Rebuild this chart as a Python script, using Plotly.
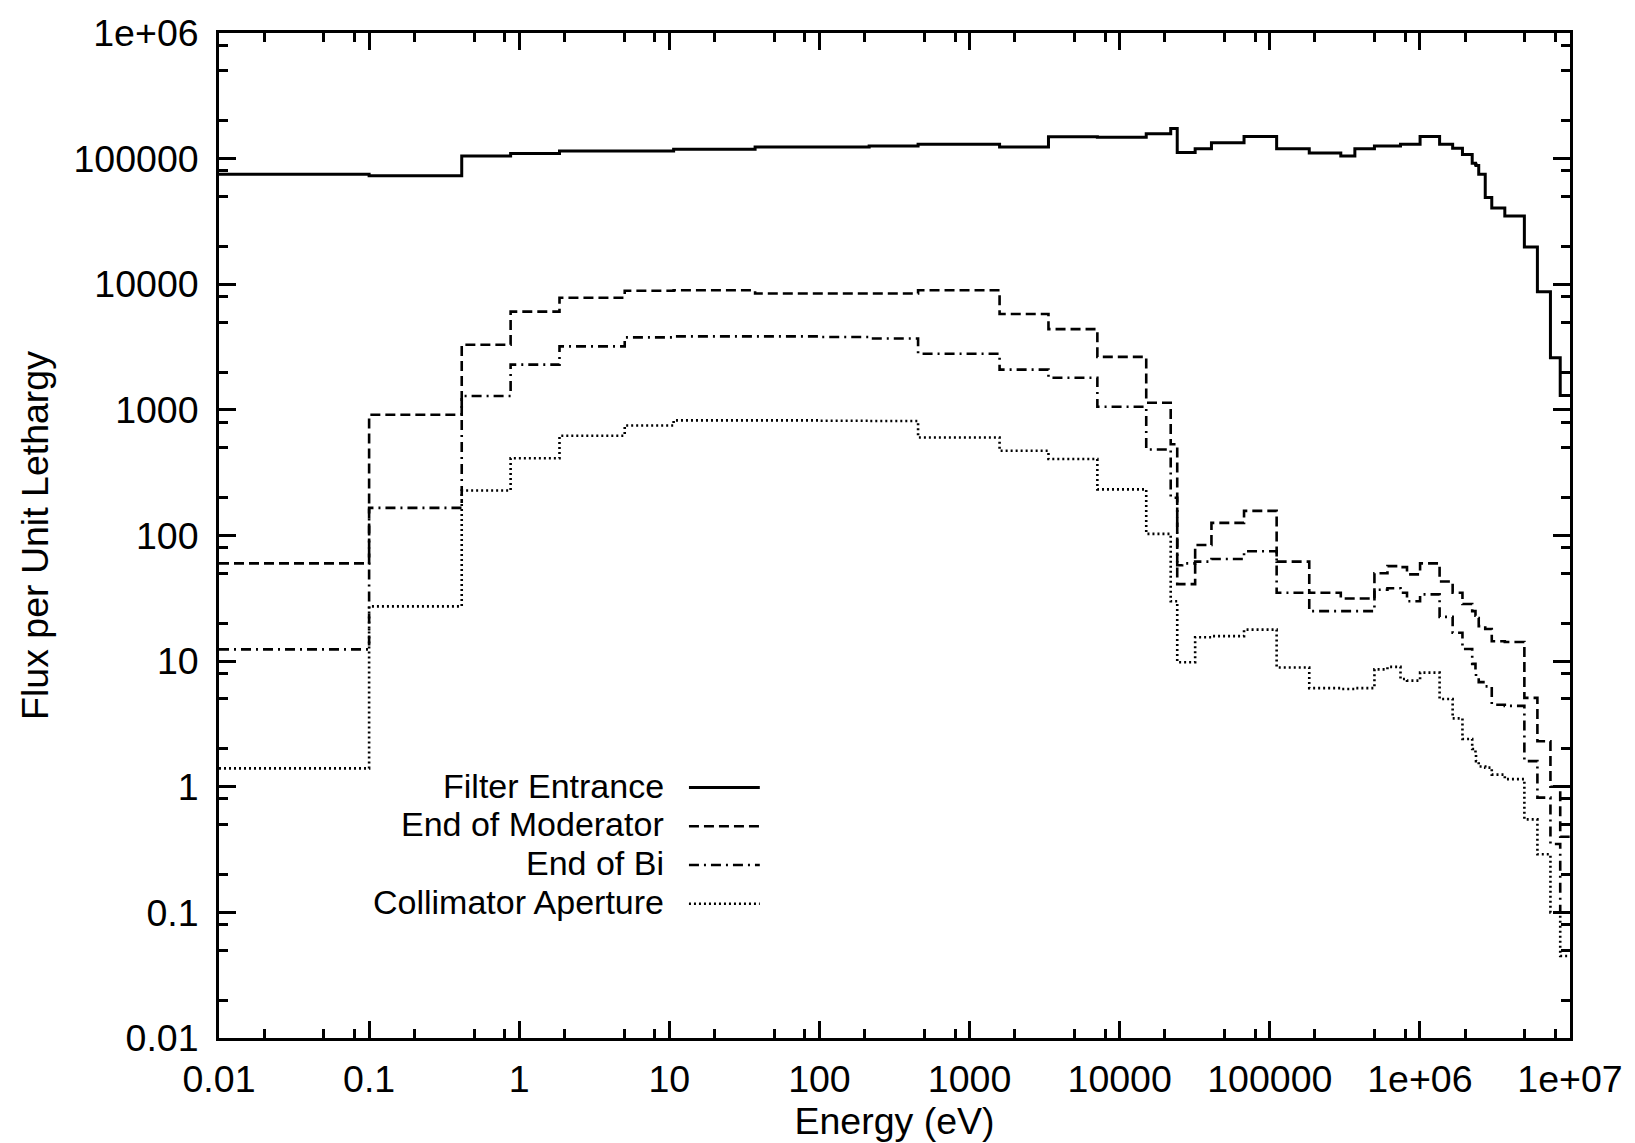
import plotly.graph_objects as go

# ---------------- data ----------------
# group boundaries (eV), 47-group BUGLE-type structure clipped to 0.01 eV .. 10 MeV
edges = [0.01, 0.1, 0.414, 0.8764, 1.855, 5.044, 10.68, 37.27, 101.3, 214.4, 454.0,
         1585, 3355, 7102, 15030, 21880, 24180, 26060, 31830, 40870, 67380, 111100,
         183200, 297200, 368800, 497900, 608100, 742700, 820800, 1003000, 1353000,
         1653000, 1921000, 2231000, 2346000, 2365000, 2466000, 2725000, 3012000,
         3679000, 4966000, 6065000, 7408000, 8607000, 1e7]

filter_entrance = [75000, 73000, 105000, 110000, 115000, 115000, 118600, 124000, 124000,
                   126000, 130000, 124000, 149000, 148000, 158000, 174000, 112000, 112000,
                   120000, 134000, 150000, 120000, 111000, 105000, 120000, 126000, 126000,
                   130000, 130000, 150000, 130000, 121000, 108000, 92000, 90000, 88000,
                   75000, 49000, 40500, 35000, 19800, 8700, 2600, 1300]

end_of_moderator = [60, 915, 3300, 6050, 7800, 8880, 8950, 8450, 8450, 8450, 8970, 5800,
                    4390, 2640, 1140, 533, 41, 41, 84, 126, 157, 62, 35, 31.5, 31.5, 50,
                    57, 56, 49, 60, 43, 35, 28.5, 25, 23, 22, 19, 18, 14.4, 14.2, 5.1,
                    2.3, 1.0, 0.4]

end_of_bi = [12.4, 166, 1290, 2290, 3200, 3780, 3850, 3850, 3800, 3700, 2800, 2090, 1800,
             1060, 484, 200, 58, 60, 62, 65, 75, 35, 25, 25, 25, 37, 38, 35, 30, 34,
             22.5, 16.8, 12.5, 9.5, 8.5, 7.5, 6.8, 6.3, 4.5, 4.4, 1.6, 0.82, 0.35, 0.1]

collimator_aperture = [1.4, 27.3, 228, 412, 623, 750, 825, 825, 820, 815, 603, 473, 406,
                       233, 103, 30, 9.8, 9.8, 15.5, 15.8, 17.8, 8.9, 6.1, 6.0, 6.1, 8.6,
                       9.0, 7.2, 7.0, 8.1, 5.0, 3.5, 2.4, 2.0, 1.8, 1.6, 1.45, 1.42, 1.25,
                       1.15, 0.55, 0.29, 0.1, 0.045]

series_names = ["Filter Entrance", "End of Moderator", "End of Bi", "Collimator Aperture"]
series_values = [filter_entrance, end_of_moderator, end_of_bi, collimator_aperture]

x_tick_vals = [0.01, 0.1, 1, 10, 100, 1000, 10000, 100000, 1e6, 1e7]
x_tick_text = ["0.01", "0.1", "1", "10", "100", "1000", "10000", "100000", "1e+06", "1e+07"]
y_tick_vals = [0.01, 0.1, 1, 10, 100, 1000, 10000, 100000, 1e6]
y_tick_text = ["0.01", "0.1", "1", "10", "100", "1000", "10000", "100000", "1e+06"]

# ---------------- styling ----------------
FONT = "Liberation Sans, Arial, Helvetica, sans-serif"
FS = 37.5
LEG_FS = 34
dashes = ["solid", "10px,5px", "10px,5px,2px,5px", "2px,3px"]
widths = [3, 2.6, 2.6, 2.6]

W, H = 1635, 1143
ML, MR, MT, MB = 219, 62, 28, 104
PW = W - ML - MR
PH = H - MT - MB


def px_to_paper_x(px):
    return (px - ML) / PW


def px_to_paper_y(py):
    return (H - MB - py) / PH


fig = go.Figure()
for name, vals, dash, lw in zip(series_names, series_values, dashes, widths):
    fig.add_trace(go.Scatter(
        x=edges,
        y=list(vals) + [vals[-1]],
        mode="lines",
        name=name,
        showlegend=False,
        line=dict(color="black", width=lw, dash=dash, shape="hv"),
    ))

minor_x = [m * 10 ** e for e in range(-2, 7) for m in (2, 5, 8)]
minor_y = [m * 10 ** e for e in range(-2, 6) for m in (2, 5, 8)]

axis_common = dict(
    type="log",
    showgrid=False,
    zeroline=False,
    showline=True,
    linecolor="black",
    linewidth=2.8,
    mirror="ticks",
    ticks="inside",
    ticklen=17,
    tickwidth=2.5,
    tickcolor="black",
    tickfont=dict(family=FONT, size=FS, color="black"),
)

fig.update_layout(
    width=W,
    height=H,
    margin=dict(l=ML, r=MR, t=MT, b=MB, pad=0),
    autosize=False,
    paper_bgcolor="white",
    plot_bgcolor="white",
    showlegend=False,
    font=dict(family=FONT, size=FS, color="black"),
    xaxis=dict(
        **axis_common,
        range=[-2, 7],
        tickmode="array",
        tickvals=x_tick_vals,
        ticktext=x_tick_text,
        ticklabelstandoff=6,
        minor=dict(tickmode="array", tickvals=minor_x, ticks="inside", ticklen=9,
                   tickwidth=2.5, tickcolor="black", showgrid=False),
        title=dict(text="Energy (eV)", font=dict(family=FONT, size=FS, color="black"),
                   standoff=5),
    ),
    yaxis=dict(
        **axis_common,
        range=[-2, 6],
        tickmode="array",
        tickvals=y_tick_vals,
        ticktext=y_tick_text,
        ticklabelstandoff=10,
        minor=dict(tickmode="array", tickvals=minor_y, ticks="inside", ticklen=9,
                   tickwidth=2.5, tickcolor="black", showgrid=False),
        title=dict(text="Flux per Unit Lethargy", font=dict(family=FONT, size=FS, color="black"),
                   standoff=14),
    ),
)

# legend drawn like the original: right-aligned labels with line samples on their right
legend_rows_py = [785, 824, 863, 902]
text_right_px = 667
sample_x0_px, sample_x1_px = 690, 761
for name, dash, lw, py in zip(series_names, dashes, widths, legend_rows_py):
    fig.add_annotation(
        x=px_to_paper_x(text_right_px), y=px_to_paper_y(py),
        xref="paper", yref="paper", xanchor="right", yanchor="middle",
        text=name, showarrow=False,
        font=dict(family=FONT, size=LEG_FS, color="black"),
    )
    fig.add_shape(
        type="line", xref="paper", yref="paper",
        x0=px_to_paper_x(sample_x0_px), x1=px_to_paper_x(sample_x1_px),
        y0=px_to_paper_y(py + 2), y1=px_to_paper_y(py + 2),
        line=dict(color="black", width=lw, dash=dash),
    )

fig.write_html("out.html")
